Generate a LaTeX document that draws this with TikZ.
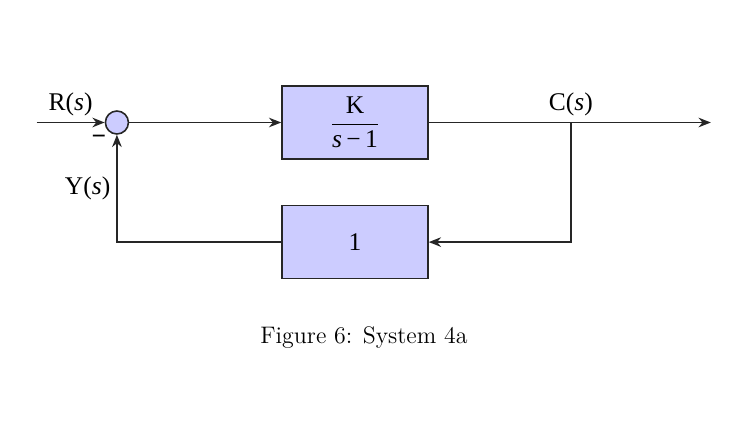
\documentclass[tikz,border=0pt]{standalone}
\usepackage{amsmath}
\usepackage{fontspec}
\newfontfamily\diagfont{Liberation Serif}
\usepackage{tikz}
\usetikzlibrary{arrows.meta,positioning,calc}
\definecolor{blkfill}{RGB}{204,204,255}

\begin{document}
\begin{tikzpicture}[
    line width=0.9pt, draw=black!85,
    blk/.style={rectangle, draw=black!85, fill=blkfill, minimum width=2.92cm, minimum height=1.46cm, font=\diagfont\fontsize{14.5}{17}\selectfont},
    sumnode/.style={circle, draw=black!85, fill=blkfill, minimum size=0.46cm, inner sep=0pt},
    lbl/.style={font=\diagfont\fontsize{14.5}{17}\selectfont},
    sig/.style={-{Stealth[length=7pt,width=5.5pt]}}
  ]
  \useasboundingbox (-7.1,-6.03) rectangle (7.98,2.45);
  \node[blk] (plant) at (0,0) {$\dfrac{\text{K}}{\text{\textit{s}\,−\,1}}$};
  \node[blk, below = 0.9cm of plant] (gain) {1};
  \node[sumnode, left = 3.04cm of plant] (sum) {};
  \coordinate[left = 1.36cm of sum] (in);
  \coordinate[right = 2.84cm of plant] (branch);
  \coordinate[right = 2.8cm of branch] (out);
  \draw[sig] (in) -- node[lbl, above] (rlabel) {R(\textit{s})} (sum);
  \draw[sig] (sum) -- (plant);
  \draw[sig] (plant) -- (out);
  \node[lbl, above] (clabel) at (branch) {C(\textit{s})};
  \draw[sig] (branch) |- (gain);
  \draw[sig] (gain) -| node[lbl, left, pos=0.75] (ylabel) {Y(\textit{s})} (sum);
  \node[lbl, inner sep=0pt] (minus) at ($(sum)+(-0.36,-0.34)$) {\textbf{−}};
  \node[font=\fontsize{13.6}{16}\selectfont] (caption) at (0.18,-4.31) {Figure 6: System 4a};
\end{tikzpicture}
\end{document}
